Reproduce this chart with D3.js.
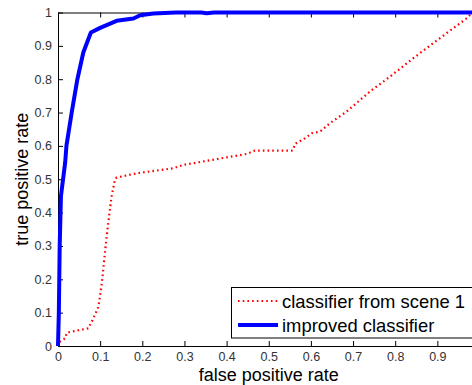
<!DOCTYPE html>
<html>
<head>
<meta charset="utf-8">
<script src="https://cdn.jsdelivr.net/npm/d3@7"></script>
<style>
  html, body { margin: 0; padding: 0; background: #fff; }
  svg { display: block; font-family: "Liberation Sans", Arial, Helvetica, sans-serif; }
</style>
</head>
<body>
<svg id="chart" width="472" height="385"></svg>
<script>
// ---- data ----
const scene1FPR = [0, 0.001, 0.017, 0.021, 0.072, 0.084, 0.096, 0.104, 0.112, 0.119, 0.127, 0.135, 0.139, 0.187, 0.274, 0.297, 0.448, 0.467, 0.531, 0.554, 0.558, 0.562, 0.586, 0.602, 0.622, 0.645, 0.685, 0.74, 0.788, 0.843, 0.89, 0.938, 0.97, 0.982, 0.987, 1];
const scene1TPR = [0, 0.01, 0.023, 0.04, 0.053, 0.083, 0.118, 0.188, 0.288, 0.368, 0.448, 0.498, 0.505, 0.518, 0.533, 0.543, 0.576, 0.586, 0.586, 0.586, 0.588, 0.606, 0.623, 0.638, 0.643, 0.668, 0.703, 0.763, 0.808, 0.863, 0.908, 0.953, 0.983, 0.998, 1, 1];
const improvedFPR = [0, 0.002, 0.004, 0.007, 0.012, 0.017, 0.02, 0.0325, 0.046, 0.06, 0.078, 0.1, 0.139, 0.179, 0.195, 0.226, 0.28, 0.34, 0.353, 0.37, 1];
const improvedTPR = [0, 0.1, 0.3, 0.45, 0.5, 0.55, 0.6, 0.7, 0.8, 0.88, 0.94, 0.954, 0.975, 0.982, 0.992, 0.997, 1, 1, 0.998, 1, 1];
const xTicks = [0, 0.1, 0.2, 0.3, 0.4, 0.5, 0.6, 0.7, 0.8, 0.9];
const yTicks = [0, 0.1, 0.2, 0.3, 0.4, 0.5, 0.6, 0.7, 0.8, 0.9, 1];
const seriesNames = ["classifier from scene 1", "improved classifier"];
const xLabel = "false positive rate";
const yLabel = "true positive rate";

// ---- layout ----
const svg = d3.select("#chart");
const x = d3.scaleLinear().domain([0, 1]).range([58, 479.5]);
const y = d3.scaleLinear().domain([0, 1]).range([346, 12.5]);

const line = d3.line().x(d => x(d[0])).y(d => y(d[1]));

// curves
const scene1 = scene1FPR.map((v, i) => [v, scene1TPR[i]]);
const improved = improvedFPR.map((v, i) => [v, improvedTPR[i]]);

svg.append("path").datum(scene1)
  .attr("d", line).attr("fill", "none")
  .attr("stroke", "#ff0000").attr("stroke-width", 2.2)
  .attr("stroke-dasharray", "1.6,3.1");

// axes
const tickStyle = g => {
  g.selectAll(".tick text").attr("fill", "#333").style("font-size", "12.5px")
    .style("font-family", "'Liberation Sans', Arial, sans-serif");
  g.selectAll(".tick line").attr("stroke", "#000");
  g.select(".domain").attr("stroke", "#000");
};

svg.append("g").attr("transform", `translate(0,${y(0)})`)
  .call(d3.axisBottom(x).tickValues(xTicks).tickFormat(d3.format("")).tickSizeInner(-5).tickSizeOuter(0).tickPadding(6))
  .call(tickStyle);

svg.append("g").attr("transform", `translate(${x(0)},0)`)
  .call(d3.axisLeft(y).tickValues(yTicks).tickFormat(d3.format("")).tickSizeInner(-5).tickSizeOuter(0).tickPadding(6))
  .call(tickStyle);

svg.append("g").attr("transform", `translate(0,${y(1)})`)
  .call(d3.axisTop(x).tickValues(xTicks).tickFormat("").tickSizeInner(-5).tickSizeOuter(0))
  .call(tickStyle);

svg.append("path").datum(improved)
  .attr("d", line).attr("fill", "none")
  .attr("stroke", "#0000ff").attr("stroke-width", 4)
  .attr("stroke-linejoin", "round");

// axis labels
svg.append("text").attr("x", (x(0) + x(1)) / 2).attr("y", 381)
  .attr("text-anchor", "middle").style("font-size", "18px").attr("fill", "#000")
  .text(xLabel);
svg.append("text")
  .attr("transform", `translate(28,${(y(0) + y(1)) / 2}) rotate(-90)`)
  .attr("text-anchor", "middle").style("font-size", "18px").attr("fill", "#000")
  .text(yLabel);

// legend
const lg = svg.append("g");
lg.append("rect").attr("x", 231.5).attr("y", 287.5).attr("width", 250).attr("height", 50.5)
  .attr("fill", "#fff").attr("stroke", "#000").attr("stroke-width", 1);
const legendStyles = [
  { color: "#ff0000", width: 2.2, dash: "1.6,3.1" },
  { color: "#0000ff", width: 4, dash: null }
];
seriesNames.forEach((name, i) => {
  const cy = 301 + i * 24;
  const s = legendStyles[i];
  lg.append("line").attr("x1", 238).attr("x2", 278).attr("y1", cy).attr("y2", cy)
    .attr("stroke", s.color).attr("stroke-width", s.width)
    .attr("stroke-dasharray", s.dash);
  lg.append("text").attr("x", 282).attr("y", cy + 6.5)
    .style("font-size", "18.4px").attr("fill", "#000").text(name);
});
</script>
</body>
</html>
